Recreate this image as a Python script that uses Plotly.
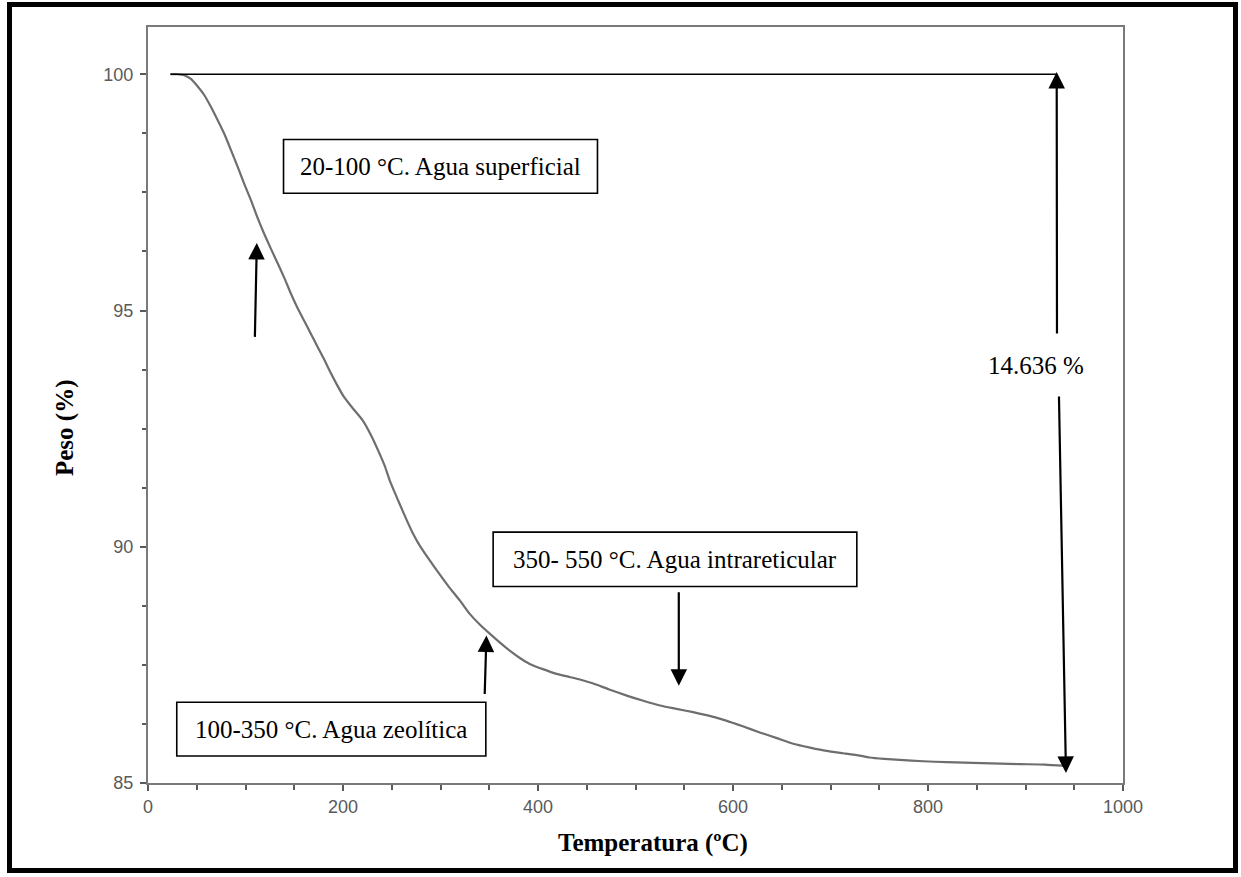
import plotly.graph_objects as go

# Thermogravimetric curve: temperature (°C) vs. remaining weight (%)
temperatura = [23, 30, 37, 44, 51, 58, 64.5, 71, 78, 85, 92, 98.5, 105.5, 112, 119, 126, 133,
               140, 146.5, 153, 160, 167, 174, 181, 187.6, 194, 201, 210, 220, 229, 237.5,
               243, 248, 253, 258, 265, 272, 280, 289, 299, 309, 320, 330, 340, 350.5,
               361, 371, 381, 391.5, 405, 419, 431, 443, 456, 473, 491, 508, 525, 542,
               559, 576, 593, 610, 627.5, 645, 661.7, 679, 696, 713, 730, 740, 755, 771,
               795, 819, 855, 894, 920, 941]
peso = [100.0, 100.0, 99.98, 99.9, 99.74, 99.55, 99.31, 99.05, 98.75, 98.4, 98.04, 97.69,
        97.34, 96.98, 96.63, 96.31, 96.0, 95.68, 95.36, 95.07, 94.79, 94.51, 94.23, 93.95,
        93.67, 93.42, 93.17, 92.93, 92.68, 92.35, 91.97, 91.7, 91.4, 91.15, 90.91, 90.58,
        90.27, 89.98, 89.71, 89.42, 89.14, 88.86, 88.58, 88.36, 88.16, 87.97, 87.8, 87.65,
        87.52, 87.41, 87.31, 87.25, 87.19, 87.11, 86.98, 86.85, 86.74, 86.64, 86.57, 86.5,
        86.42, 86.32, 86.2, 86.07, 85.95, 85.83, 85.75, 85.68, 85.63, 85.58, 85.54, 85.51,
        85.49, 85.46, 85.44, 85.42, 85.4, 85.39, 85.364]

x_ticks = [0, 200, 400, 600, 800, 1000]
y_ticks = [85, 90, 95, 100]

perdida_total = 14.636  # % weight loss between start and end
peso_inicial = 100.0
peso_final = peso_inicial - perdida_total

# Figure geometry (pixels)
W, H = 1241, 877
ML, MR, MT, MB = 148, 118, 27, 94
PW, PH = W - ML - MR, H - MT - MB


def px_x(p):
    return (p - ML) / PW


def px_y(p):
    return (H - MB - p) / PH


AXIS_GREY = "#7a7a7a"
TICK_GREY = "#5a5a5a"
SERIF = "Liberation Serif, Times New Roman, serif"

fig = go.Figure()
fig.add_trace(go.Scatter(
    x=temperatura, y=peso, mode="lines",
    line=dict(color="#6e6e6e", width=2.2, shape="spline", smoothing=0.5),
    hoverinfo="skip", showlegend=False,
))

shapes = []
annotations = []

# horizontal reference at the initial weight
shapes.append(dict(type="line", xref="x", yref="y", x0=23, x1=932,
                   y0=peso_inicial, y1=peso_inicial,
                   line=dict(color="black", width=1.3)))

# labelled boxes: (text, x0, x1, y_top, y_bottom) in data units
cajas = [
    ("20-100 °C. Agua superficial", 139.0, 461.0, 98.62, 97.48),
    ("350- 550 °C. Agua intrareticular", 354.0, 727.0, 90.31, 89.16),
    ("100-350 °C. Agua zeolítica", 29.5, 346.5, 86.71, 85.57),
]
for txt, x0, x1, y0, y1 in cajas:
    shapes.append(dict(type="rect", xref="x", yref="y", x0=x0, x1=x1, y0=y0, y1=y1,
                       line=dict(color="black", width=1.6), fillcolor="white",
                       layer="above"))
    annotations.append(dict(x=(x0 + x1) / 2, y=(y0 + y1) / 2, xref="x", yref="y",
                            text=txt, showarrow=False,
                            xanchor="center", yanchor="middle",
                            font=dict(family=SERIF, size=25, color="black")))

# arrows: (tip_x, tip_y, tail_x, tail_y)
flechas = [
    (111.6, 96.43, 109.6, 94.41),
    (347.1, 88.12, 345.3, 86.85),
    (544.4, 87.06, 544.4, 89.07),
    (932.0, peso_inicial + 0.05, 932.3, 94.48),
    (941.5, peso_final - 0.15, 934.3, 93.21),
]
for tx, ty, sx, sy in flechas:
    annotations.append(dict(x=tx, y=ty, ax=sx, ay=sy, xref="x", yref="y",
                            axref="x", ayref="y", text="", showarrow=True,
                            arrowhead=2, arrowsize=1.5, arrowwidth=2.2,
                            arrowcolor="black", standoff=0, startstandoff=0))

annotations.append(dict(x=910.5, y=93.83, xref="x", yref="y",
                        text=f"{perdida_total:.3f} %", showarrow=False,
                        xanchor="center", yanchor="middle",
                        font=dict(family=SERIF, size=25, color="black")))

# axis titles
annotations.append(dict(x=px_x(653), y=px_y(843), xref="paper", yref="paper",
                        text="<b>Temperatura (ºC)</b>", showarrow=False,
                        xanchor="center", yanchor="middle",
                        font=dict(family=SERIF, size=25, color="black")))
annotations.append(dict(x=px_x(65), y=px_y(428), xref="paper", yref="paper",
                        text="<b>Peso (%)</b>", showarrow=False, textangle=-90,
                        xanchor="center", yanchor="middle",
                        font=dict(family=SERIF, size=25, color="black")))

# outer frame around the whole figure
shapes.append(dict(type="rect", xref="paper", yref="paper",
                   x0=px_x(9.5), x1=px_x(1235.5), y0=px_y(870.5), y1=px_y(4.5),
                   line=dict(color="black", width=5)))

tick_font = dict(family="Liberation Sans, Arial, sans-serif", size=18, color=TICK_GREY)

fig.update_layout(
    width=W, height=H,
    margin=dict(l=ML, r=MR, t=MT, b=MB, pad=0),
    paper_bgcolor="white", plot_bgcolor="white",
    shapes=shapes, annotations=annotations,
    font=tick_font,
    xaxis=dict(range=[0, 1000], tickvals=x_ticks, ticktext=[str(v) for v in x_ticks],
               showgrid=False, zeroline=False, showline=True, linecolor=AXIS_GREY,
               linewidth=2, mirror=True, ticks="outside", ticklen=6, tickwidth=2,
               tickcolor=TICK_GREY,
               minor=dict(dtick=50, ticks="outside", ticklen=5, tickwidth=2,
                          tickcolor=TICK_GREY, showgrid=False),
               tickfont=tick_font),
    yaxis=dict(range=[85, 101], tickvals=y_ticks, ticktext=[str(v) for v in y_ticks],
               showgrid=False, zeroline=False, showline=True, linecolor=AXIS_GREY,
               linewidth=2, mirror=True, ticks="outside", ticklen=6, tickwidth=2,
               tickcolor=TICK_GREY, ticklabelstandoff=3,
               minor=dict(dtick=1.25, ticks="outside", ticklen=4, tickwidth=1.5,
                          tickcolor=TICK_GREY, showgrid=False),
               tickfont=tick_font),
)

fig.write_html("out.html")
